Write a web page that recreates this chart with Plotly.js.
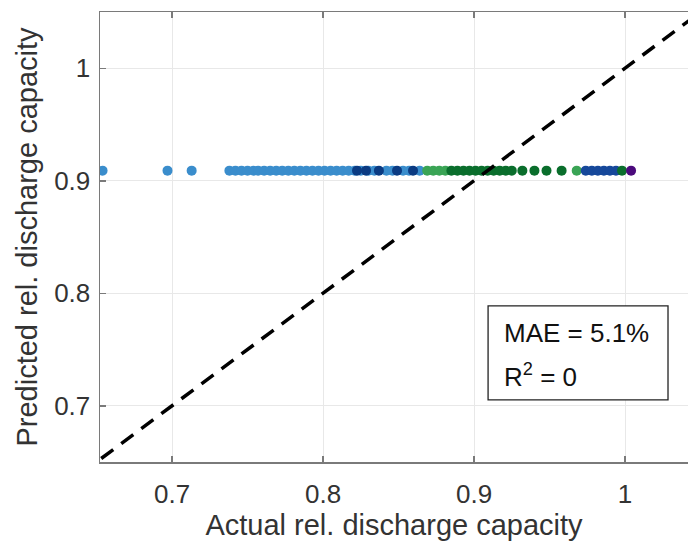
<!DOCTYPE html>
<html>
<head>
<meta charset="utf-8">
<script src="https://cdn.plot.ly/plotly-3.0.1.min.js"></script>
<style>html,body{margin:0;padding:0;background:#fff;}#plot{width:688px;height:544px;}</style>
</head>
<body>
<div id="plot"></div>
<script>
// Actual (x) and predicted (y) relative discharge capacity, grouped by colour
const lightBlueX = [0.654, 0.697, 0.713, 0.738, 0.742, 0.746, 0.750, 0.754, 0.757, 0.761, 0.765, 0.769, 0.773, 0.777, 0.781, 0.785, 0.789, 0.793, 0.797, 0.801, 0.805, 0.809, 0.813, 0.817, 0.821, 0.825, 0.830, 0.834, 0.842, 0.846, 0.853, 0.857, 0.864];
const lightBlueY = [0.909, 0.909, 0.909, 0.909, 0.909, 0.909, 0.909, 0.909, 0.909, 0.909, 0.909, 0.909, 0.909, 0.909, 0.909, 0.909, 0.909, 0.909, 0.909, 0.909, 0.909, 0.909, 0.909, 0.909, 0.909, 0.909, 0.909, 0.909, 0.909, 0.909, 0.909, 0.909, 0.909];
const navyX = [0.8225, 0.8285, 0.837, 0.849, 0.8596];
const navyY = [0.909, 0.909, 0.909, 0.909, 0.909];
const lightGreenX = [0.869, 0.873, 0.877, 0.881, 0.968];
const lightGreenY = [0.909, 0.909, 0.909, 0.909, 0.909];
const darkGreenX = [0.885, 0.889, 0.893, 0.897, 0.901, 0.905, 0.909, 0.913, 0.917, 0.921, 0.925, 0.932, 0.940, 0.948, 0.958];
const darkGreenY = [0.909, 0.909, 0.909, 0.909, 0.909, 0.909, 0.909, 0.909, 0.909, 0.909, 0.909, 0.909, 0.909, 0.909, 0.909];
const midBlueX = [0.974, 0.978, 0.982, 0.986, 0.990, 0.994];
const midBlueY = [0.909, 0.909, 0.909, 0.909, 0.909, 0.909];
const lastGreenX = [0.998];
const lastGreenY = [0.909];
const purpleX = [1.004];
const purpleY = [0.909];
const diagX = [0.6, 1.1];
const diagY = [0.6, 1.1];
const xTicks = [0.7, 0.8, 0.9, 1];
const xTickText = ['0.7', '0.8', '0.9', '1'];
const yTicks = [0.7, 0.8, 0.9, 1];
const yTickText = ['0.7', '0.8', '0.9', '1'];

const FONT = 'Liberation Sans, Arial, sans-serif';
function pts(x, y, color) {
  return {x: x, y: y, type: 'scatter', mode: 'markers', showlegend: false, hoverinfo: 'skip',
    marker: {size: 10, color: color, line: {width: 0}}};
}
const traces = [
  pts(lightBlueX, lightBlueY, '#3a8dcc'),
  pts(navyX, navyY, '#0b3b82'),
  pts(lightGreenX, lightGreenY, '#3aa455'),
  pts(darkGreenX, darkGreenY, '#0a6e2c'),
  pts(midBlueX, midBlueY, '#16489a'),
  pts(lastGreenX, lastGreenY, '#0a6e2c'),
  pts(purpleX, purpleY, '#4b0a7c'),
  {x: diagX, y: diagY, type: 'scatter', mode: 'lines', showlegend: false, hoverinfo: 'skip',
    line: {color: '#000', width: 3.5, dash: '15px,10px'}}
];
const axisCommon = {
  showline: true, linecolor: '#7a7a7a', linewidth: 1.5,
  ticks: 'inside', ticklen: 6, tickcolor: '#7a7a7a', tickwidth: 1.5,
  showgrid: true, gridcolor: '#e8e8e8', gridwidth: 1, zeroline: false,
  tickfont: {family: FONT, size: 26, color: '#333'}
};
const layout = {
  width: 688, height: 544,
  margin: {l: 100, r: 0, t: 12, b: 82},
  paper_bgcolor: '#fff', plot_bgcolor: '#fff',
  xaxis: Object.assign({}, axisCommon, {
    range: [0.6523, 1.0417], tickvals: xTicks, ticktext: xTickText, mirror: 'ticks',
    ticklabelstandoff: 8,
    title: {text: 'Actual rel. discharge capacity', font: {family: FONT, size: 29, color: '#333'}, standoff: 4}
  }),
  yaxis: Object.assign({}, axisCommon, {
    range: [0.65, 1.05], tickvals: yTicks, ticktext: yTickText,
    ticklabelstandoff: 3,
    title: {text: 'Predicted rel. discharge capacity', font: {family: FONT, size: 29, color: '#333'}, standoff: 8}
  }),
  shapes: [{
    type: 'rect', xref: 'paper', yref: 'paper', x0: 0.660, x1: 0.966, y0: 0.138, y1: 0.347,
    line: {color: '#222', width: 1.3}, fillcolor: '#fff', layer: 'above'
  }],
  annotations: [
    {xref: 'paper', yref: 'paper', x: 0.684, y: 0.287, xanchor: 'left', yanchor: 'middle',
      text: 'MAE = 5.1%', showarrow: false, font: {family: FONT, size: 26, color: '#111'}},
    {xref: 'paper', yref: 'paper', x: 0.684, y: 0.193, xanchor: 'left', yanchor: 'middle',
      text: 'R<sup>2</sup> = 0', showarrow: false, font: {family: FONT, size: 26, color: '#111'}}
  ]
};
Plotly.newPlot('plot', traces, layout, {displayModeBar: false, staticPlot: true});
</script>
</body>
</html>
